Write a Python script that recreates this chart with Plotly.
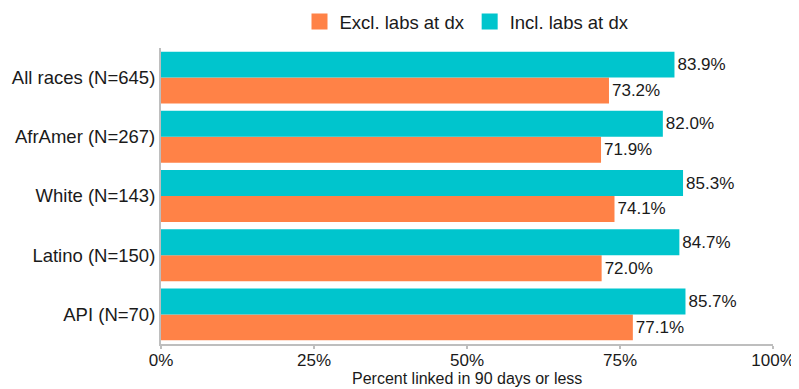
import plotly.graph_objects as go

# categories, bottom to top
groups = ["API (N=70)", "Latino (N=150)", "White (N=143)", "AfrAmer (N=267)", "All races (N=645)"]
excl_labs = [77.1, 72.0, 74.1, 71.9, 73.2]
incl_labs = [85.7, 84.7, 85.3, 82.0, 83.9]

orange = "#FF8247"
teal = "#00C5CD"

fig = go.Figure()
fig.add_trace(go.Bar(
    y=groups, x=excl_labs, orientation="h", name="Excl. labs at dx",
    marker=dict(color=orange, line=dict(width=0)), showlegend=False,
    text=[f"{v:.1f}%" for v in excl_labs], textposition="outside",
    textfont=dict(size=17, color="#1a1a1a"), cliponaxis=False
))
fig.add_trace(go.Bar(
    y=groups, x=incl_labs, orientation="h", name="Incl. labs at dx",
    marker=dict(color=teal, line=dict(width=0)), showlegend=False,
    text=[f"{v:.1f}%" for v in incl_labs], textposition="outside",
    textfont=dict(size=17, color="#1a1a1a"), cliponaxis=False
))

# legend entries with bigger square keys
for name, col in [("Excl. labs at dx", orange), ("Incl. labs at dx", teal)]:
    fig.add_trace(go.Scatter(
        x=[None], y=[None], mode="markers", name=name,
        marker=dict(symbol="square", size=20, color=col)
    ))

# page body adds an 8px offset, so the figure is a bit smaller than the window
fig.update_layout(
    width=791, height=381,
    margin=dict(l=153, r=26, t=40, b=45, autoexpand=False),
    barmode="group", bargap=0.124, bargroupgap=0,
    plot_bgcolor="white", paper_bgcolor="white",
    font=dict(family="Liberation Sans, Arial, sans-serif", size=18, color="#1a1a1a"),
    legend=dict(orientation="h", x=0.5, xanchor="center", y=1.088, yanchor="middle",
                font=dict(size=18.5), itemwidth=30, traceorder="normal"),
)
fig.update_xaxes(
    range=[0, 100], dtick=25, ticksuffix="%", showgrid=False, zeroline=False,
    showline=True, linecolor="#BEBEBE", linewidth=2,
    ticks="outside", ticklen=3, tickcolor="#BEBEBE", tickwidth=1.5,
    tickfont=dict(size=17), ticklabelstandoff=-3, automargin=False
)
fig.update_yaxes(
    categoryorder="array", categoryarray=groups, showgrid=False,
    showline=True, linecolor="#BEBEBE", linewidth=2, ticks="",
    tickfont=dict(size=18.5), automargin=False
)

# x axis title, kept inside the figure bottom
fig.add_annotation(
    text="Percent linked in 90 days or less", xref="paper", yref="paper",
    x=0.5, y=0, yanchor="bottom", yshift=-45, showarrow=False,
    font=dict(size=16)
)

fig.write_html("out.html")
